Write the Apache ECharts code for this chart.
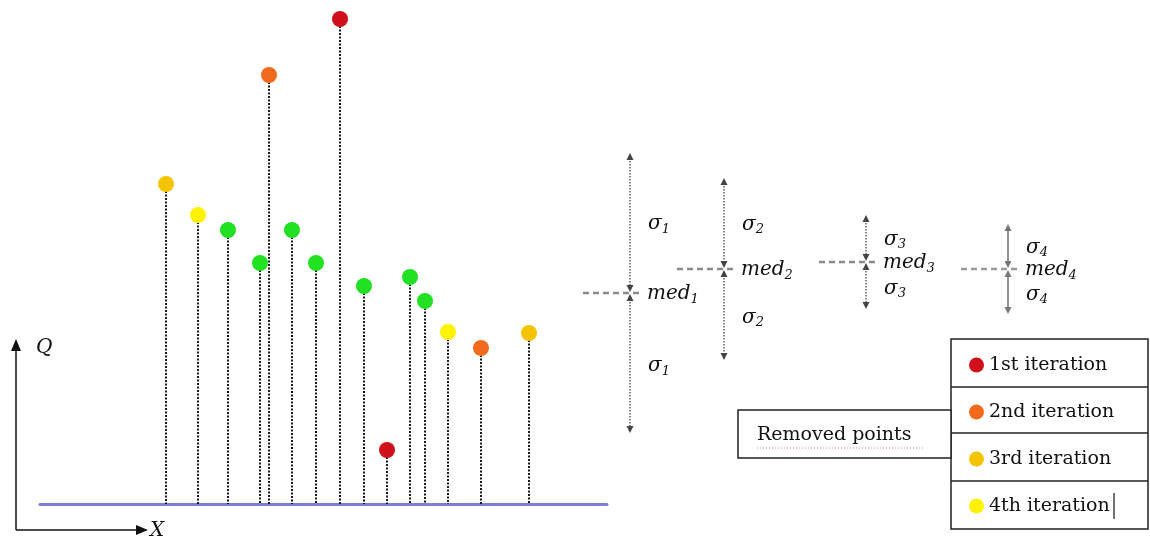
<!DOCTYPE html>
<html><head><meta charset="utf-8">
<script src="https://cdn.jsdelivr.net/npm/echarts@6/dist/echarts.min.js"></script>
<style>html,body{margin:0;padding:0;background:#fff}#c{width:1150px;height:537px}</style>
</head><body><div id="c"></div>
<script>
// ---- data ----
const pointX = [12.6, 15.8, 18.8, 22.0, 22.9, 25.2, 27.6, 30.0, 32.4, 34.7, 37.0, 38.5, 40.8, 44.1, 48.9];
const pointQ = [32.0, 28.9, 27.4, 24.1, 42.9, 27.4, 24.1, 48.5, 21.8, 5.4, 22.7, 20.3, 17.2, 15.6, 17.1];
// 0 = kept, 1..4 = iteration in which the point was removed
const pointIter = [3, 4, 0, 0, 2, 0, 0, 1, 0, 1, 0, 0, 4, 2, 3];
const iterNames = ['1st iteration', '2nd iteration', '3rd iteration', '4th iteration'];
const keptName = 'Kept points';
// median / sigma schematic for each iteration
const diagX = [9.0, 18.4, 32.6, 46.8];
const diagMed = [21.1, 23.5, 24.2, 23.5];
const diagSigma = [14.0, 9.1, 4.7, 4.5];
const diagSub = ['1', '2', '3', '4'];

const iterColors = ['#22e022', '#d0101a', '#f26b1d', '#f5c400', '#fff200'];
const SERIF = 'DejaVu Serif';

const chart = echarts.init(document.getElementById('c'));

const pts = pointX.map((x, i) => [x, pointQ[i], pointIter[i]]);

const scatterSeries = [0, 1, 2, 3, 4].map(k => ({
  type: 'scatter',
  name: k === 0 ? keptName : iterNames[k - 1],
  xAxisIndex: 0, yAxisIndex: 0,
  symbol: 'circle', symbolSize: 16,
  itemStyle: { color: iterColors[k], opacity: 1 },
  data: pts.filter(p => p[2] === k).map(p => [p[0], p[1]]),
  z: 5, silent: true
}));

const richLabel = {
  m: { fontFamily: SERIF, fontStyle: 'italic', fontSize: 20, lineHeight: 24, fill: '#111' },
  s: { fontFamily: SERIF, fontStyle: 'italic', fontSize: 13, lineHeight: 10, verticalAlign: 'bottom', fill: '#111' }
};

function renderDiag(params, api) {
  const x = api.value(0), m = api.value(1), s = api.value(2);
  const k = params.dataIndex;
  const c = api.coord([x, m]), t = api.coord([x, m + s]), b = api.coord([x, m - s]);
  const solid = k === 3;
  const vs = solid ? '#777' : '#444';
  const vline = (y1, y2) => ({
    type: 'line', shape: { x1: c[0], y1: y1, x2: c[0], y2: y2 },
    style: { stroke: vs, lineWidth: solid ? 1.6 : 1.3, lineDash: solid ? null : [1.5, 1.5] }
  });
  const tri = (y, dir) => ({
    type: 'polygon',
    shape: { points: [[c[0], y], [c[0] - 3.5, y - dir * 7], [c[0] + 3.5, y - dir * 7]] },
    style: { fill: vs }
  });
  const sub = diagSub[k];
  return {
    type: 'group',
    children: [
      { type: 'line', shape: { x1: c[0] - 47, y1: c[1], x2: c[0] + 13, y2: c[1] },
        style: { stroke: solid ? '#9a9a9a' : '#8a8a8a', lineWidth: 2.5, lineDash: [6, 4] } },
      vline(t[1] + 5, c[1] - 6),
      vline(c[1] + 6, b[1] - 5),
      tri(t[1], -1), tri(c[1] - 1, 1), tri(c[1] + 1, -1), tri(b[1], 1),
      { type: 'text', style: { text: '{m|med}{s|' + sub + '}', x: c[0] + 17, y: c[1] + 1, rich: richLabel, verticalAlign: 'middle', align: 'left' } },
      { type: 'text', style: { text: '{m|σ}{s|' + sub + '}', x: c[0] + 18, y: (t[1] + c[1]) / 2 + 1, rich: richLabel, verticalAlign: 'middle', align: 'left' } },
      { type: 'text', style: { text: '{m|σ}{s|' + sub + '}', x: c[0] + 18, y: (c[1] + b[1]) / 2 + 3, rich: richLabel, verticalAlign: 'middle', align: 'left' } }
    ]
  };
}

const option = {
  animation: false,
  backgroundColor: '#fff',
  grid: [
    { left: 40, top: 4, width: 567, height: 500 },
    { left: 540, top: 4, width: 610, height: 500 }
  ],
  xAxis: [
    { type: 'value', gridIndex: 0, min: 0, max: 56.7,
      axisLine: { show: true, onZero: true, lineStyle: { color: '#7d7ddb', width: 3 } },
      axisTick: { show: false }, axisLabel: { show: false }, splitLine: { show: false } },
    { type: 'value', gridIndex: 1, min: 0, max: 61, show: false }
  ],
  yAxis: [
    { type: 'value', gridIndex: 0, min: 0, max: 50, show: false },
    { type: 'value', gridIndex: 1, min: 0, max: 50, show: false }
  ],
  legend: {
    data: iterNames, orient: 'vertical', left: 969, top: 355, padding: 0,
    itemWidth: 15, itemHeight: 20, itemGap: 27, icon: 'circle', selectedMode: false,
    textStyle: { fontFamily: SERIF, fontSize: 19, color: '#111', lineHeight: 20 }
  },
  graphic: [
    // Q / X reference axes
    { type: 'line', shape: { x1: 16, y1: 530, x2: 16, y2: 348 }, style: { stroke: '#111', lineWidth: 1.5 } },
    { type: 'polygon', shape: { points: [[16, 339], [11, 351], [21, 351]] }, style: { fill: '#111' } },
    { type: 'line', shape: { x1: 16, y1: 530, x2: 138, y2: 530 }, style: { stroke: '#111', lineWidth: 1.5 } },
    { type: 'polygon', shape: { points: [[148, 530], [136, 525], [136, 535]] }, style: { fill: '#111' } },
    { type: 'text', style: { text: 'Q', x: 36, y: 348, font: 'italic 20px "DejaVu Serif"', fill: '#111', verticalAlign: 'middle' } },
    { type: 'text', style: { text: 'X', x: 150, y: 531, font: 'italic 20px "DejaVu Serif"', fill: '#111', verticalAlign: 'middle' } },
    // legend table
    { type: 'rect', shape: { x: 951, y: 339, width: 197, height: 190 }, style: { stroke: '#222', lineWidth: 1.5, fill: 'none' } },
    { type: 'line', shape: { x1: 951, y1: 387, x2: 1148, y2: 387 }, style: { stroke: '#222', lineWidth: 1.5 } },
    { type: 'line', shape: { x1: 951, y1: 433, x2: 1148, y2: 433 }, style: { stroke: '#222', lineWidth: 1.5 } },
    { type: 'line', shape: { x1: 951, y1: 481, x2: 1148, y2: 481 }, style: { stroke: '#222', lineWidth: 1.5 } },
    { type: 'rect', shape: { x: 738, y: 410, width: 213, height: 48 }, style: { stroke: '#222', lineWidth: 1.5, fill: '#fff' } },
    { type: 'text', style: { text: 'Removed points', x: 757, y: 435, font: '19px "DejaVu Serif"', fill: '#111', verticalAlign: 'middle' } },
    { type: 'line', shape: { x1: 757, y1: 448, x2: 925, y2: 448 }, style: { stroke: '#e07a8a', lineWidth: 1, lineDash: [1, 2] } },
    { type: 'line', shape: { x1: 1114, y1: 493, x2: 1114, y2: 519 }, style: { stroke: '#111', lineWidth: 1.2 } }
  ],
  series: [
    {
      type: 'custom', name: 'stems', xAxisIndex: 0, yAxisIndex: 0, z: 2, silent: true,
      data: pts.map(p => [p[0], p[1]]),
      renderItem: function (params, api) {
        const top = api.coord([api.value(0), api.value(1)]);
        const bot = api.coord([api.value(0), 0]);
        return { type: 'line', shape: { x1: top[0], y1: top[1], x2: bot[0], y2: bot[1] },
          style: { stroke: '#1a1a1a', lineWidth: 2, lineDash: [2, 1.5] } };
      }
    },
    ...scatterSeries,
    {
      type: 'custom', name: 'sigma', xAxisIndex: 1, yAxisIndex: 1, z: 3, silent: true,
      data: diagX.map((x, i) => [x, diagMed[i], diagSigma[i]]),
      renderItem: renderDiag
    }
  ]
};
chart.setOption(option);
</script>
</body></html>
